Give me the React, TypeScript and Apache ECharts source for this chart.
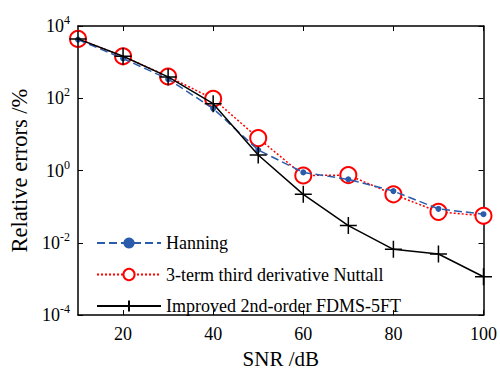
import React, { useEffect, useRef } from "react";
import * as echarts from "echarts";

const snr = [10, 20, 30, 40, 50, 60, 70, 80, 90, 100];
const hanning = [4200, 1260, 340, 52, 3.7, 0.89, 0.57, 0.27, 0.087, 0.062];
const nuttall = [4400, 1450, 400, 97, 7.9, 0.73, 0.75, 0.22, 0.072, 0.056];
const improved = [4400, 1450, 390, 71, 2.7, 0.22, 0.03, 0.0066, 0.0049, 0.00115];
const xTicks = [20, 40, 60, 80, 100];
const seriesNames = ["Hanning", "3-term third derivative Nuttall", "Improved 2nd-order FDMS-5FT"];

const FONT = "Liberation Serif";

export default function App() {
  const ref = useRef<HTMLDivElement>(null);
  useEffect(() => {
    if (!ref.current) return;
    const chart = echarts.init(ref.current, undefined, { renderer: "svg" });
    const pair = (ys: number[]) => snr.map((x, i) => [x, ys[i]]);
    const axisLineStyle = { color: "#000", width: 1.5 };
    chart.setOption({
      animation: false,
      backgroundColor: "#fff",
      textStyle: { fontFamily: FONT },
      grid: { left: 78, right: 12, top: 26, bottom: 54, containLabel: false },
      legend: {
        orient: "vertical",
        left: 91,
        top: 229,
        itemWidth: 64,
        itemHeight: 14,
        itemGap: 13.5,
        textStyle: { fontFamily: FONT, fontSize: 18, color: "#000" },
        data: seriesNames,
      },
      xAxis: [
        {
          type: "value",
          min: 10,
          max: 100,
          interval: 10,
          name: "SNR /dB",
          nameLocation: "middle",
          nameGap: 27,
          nameTextStyle: { fontFamily: FONT, fontSize: 21, color: "#000" },
          axisLine: { show: true, lineStyle: axisLineStyle },
          axisTick: { show: true, inside: true, length: 5, customValues: xTicks, lineStyle: { color: "#000" } },
          axisLabel: { customValues: xTicks, fontFamily: FONT, fontSize: 18, color: "#000", margin: 10 },
          splitLine: { show: false },
        },
        {
          type: "value",
          position: "top",
          min: 10,
          max: 100,
          interval: 10,
          axisLine: { show: true, lineStyle: axisLineStyle },
          axisTick: { show: true, inside: true, length: 5, customValues: xTicks, lineStyle: { color: "#000" } },
          axisLabel: { show: false },
          splitLine: { show: false },
        },
      ],
      yAxis: [
        {
          type: "log",
          logBase: 10,
          min: 1e-4,
          max: 1e4,
          interval: 2,
          name: "Relative errors /%",
          nameLocation: "middle",
          nameGap: 43,
          nameTextStyle: { fontFamily: FONT, fontSize: 22.5, color: "#000" },
          axisLine: { show: true, lineStyle: axisLineStyle },
          axisTick: { show: true, inside: true, length: 5, lineStyle: { color: "#000" } },
          minorTick: { show: false },
          axisLabel: {
            margin: 8,
            formatter: (v: number) => `{b|10}{e|${Math.round(Math.log10(v))}}`,
            rich: {
              b: { fontFamily: FONT, fontSize: 18, color: "#000" },
              e: { fontFamily: FONT, fontSize: 12, color: "#000", padding: [0, 0, 12, 0] },
            },
          },
          splitLine: { show: false },
        },
        {
          type: "log",
          logBase: 10,
          position: "right",
          min: 1e-4,
          max: 1e4,
          interval: 2,
          axisLine: { show: true, lineStyle: axisLineStyle },
          axisTick: { show: true, inside: true, length: 5, lineStyle: { color: "#000" } },
          axisLabel: { show: false },
          splitLine: { show: false },
        },
      ],
      series: [
        {
          name: seriesNames[0],
          type: "line",
          data: pair(hanning),
          symbol: "circle",
          symbolSize: 6,
          itemStyle: { color: "#2b5bab" },
          lineStyle: { color: "#2b5bab", width: 1.5, type: [8, 4] },
          z: 3,
        },
        {
          name: seriesNames[1],
          type: "line",
          data: pair(nuttall),
          symbol: "emptyCircle",
          symbolSize: 16,
          itemStyle: { color: "#ff0000", borderColor: "#ff0000", borderWidth: 1.5 },
          lineStyle: { color: "#ff0000", width: 1.5, type: [2, 2] },
          z: 2,
        },
        {
          name: seriesNames[2],
          type: "line",
          data: pair(improved),
          symbol: "path://M-1,0L1,0M0,-1L0,1",
          symbolSize: 17,
          itemStyle: { color: "#000", borderColor: "#000", borderWidth: 1.5 },
          lineStyle: { color: "#000", width: 1.5 },
          z: 4,
        },
      ],
    });
    return () => chart.dispose();
  }, []);
  return (
    <div
      ref={ref}
      style={{ position: "fixed", left: 0, top: 0, width: 500, height: 374 }}
    />
  );
}
